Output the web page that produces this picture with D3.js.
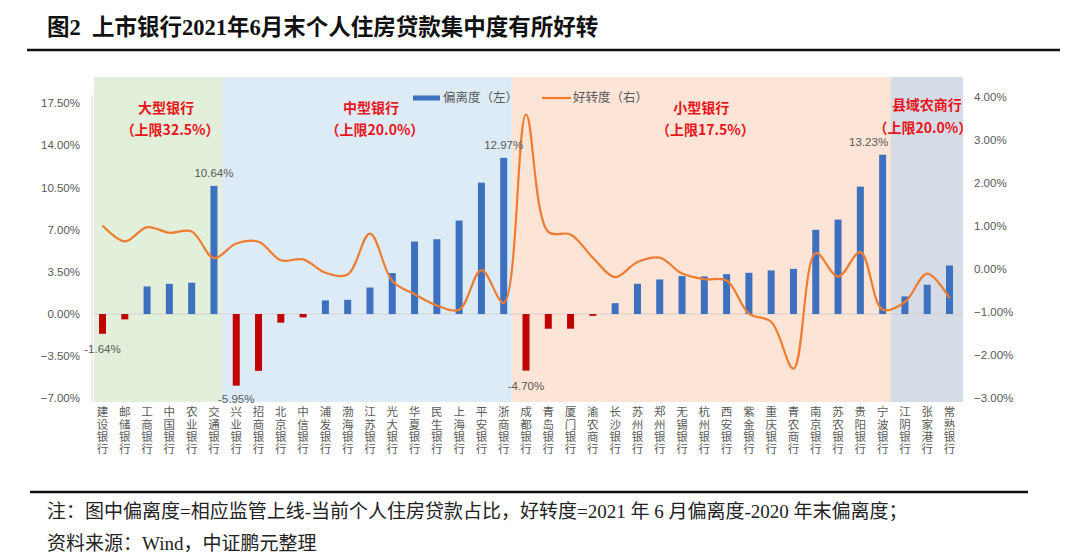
<!DOCTYPE html>
<html><head><meta charset="utf-8">
<script src="https://cdn.jsdelivr.net/npm/d3@7"></script>
<style>
html,body{margin:0;padding:0;background:#fff;}
svg{display:block;}
</style></head>
<body>
<svg id="c" width="1080" height="559"></svg>
<script>
const banks = ["建设银行","邮储银行","工商银行","中国银行","农业银行","交通银行",
"兴业银行","招商银行","北京银行","中信银行","浦发银行","渤海银行","江苏银行","光大银行","华夏银行","民生银行","上海银行","平安银行","浙商银行",
"成都银行","青岛银行","厦门银行","渝农商行","长沙银行","苏州银行","郑州银行","无锡银行","杭州银行","西安银行","紫金银行","重庆银行","青农商行","南京银行","苏农银行","贵阳银行","宁波银行",
"江阴银行","张家港行","常熟银行"];
// 偏离度（左） %
const deviation = [-1.64,-0.45,2.29,2.51,2.60,10.64,
-5.95,-4.72,-0.72,-0.28,1.13,1.18,2.20,3.40,6.02,6.21,7.76,10.91,12.97,
-4.70,-1.22,-1.22,-0.15,0.90,2.51,2.87,3.15,3.12,3.31,3.42,3.62,3.75,6.99,7.84,10.58,13.23,
1.46,2.43,4.03];
// 好转度（右） %
const improvement = [1.02,0.65,0.98,0.85,0.88,0.26,
0.60,0.64,0.21,0.23,-0.08,-0.12,0.83,-0.27,-0.58,-0.84,-0.94,-0.02,-0.78,
3.60,0.87,0.81,0.27,-0.18,0.17,0.27,-0.10,-0.23,-0.26,-1.03,-1.22,-2.31,0.38,-0.17,0.40,-0.94,
-0.76,-0.10,-0.67];
const groups = [
  {name:"大型银行", cap:"（上限32.5%）", from:0, to:5, color:"#E2EFDA"},
  {name:"中型银行", cap:"（上限20.0%）", from:6, to:18, color:"#DDEBF7"},
  {name:"小型银行", cap:"（上限17.5%）", from:19, to:35, color:"#FCE4D6"},
  {name:"县域农商行", cap:"（上限20.0%）", from:36, to:38, color:"#D6DCE5"}
];
const leftTicks = [-7,-3.5,0,3.5,7,10.5,14,17.5];
const rightTicks = [-3,-2,-1,0,1,2,3,4];
const labeled = {"建设银行":"-1.64%","交通银行":"10.64%","兴业银行":"-5.95%","浙商银行":"12.97%","成都银行":"-4.70%","宁波银行":"13.23%"};

const svg = d3.select("#c");
const cjk = "'Noto Sans CJK SC','Noto Sans',sans-serif";
const gray = "#595959";

// title
svg.append("text").attr("x",47).attr("y",35)
  .attr("font-family","'Liberation Serif','Noto Sans CJK SC',serif")
  .attr("font-weight","bold").attr("font-size",22.5).attr("fill","#111")
  .text("图2\u00A0\u00A0上市银行2021年6月末个人住房贷款集中度有所好转");
svg.append("line").attr("x1",27).attr("x2",1060).attr("y1",50).attr("y2",50)
  .attr("stroke","#111").attr("stroke-width",2.5);

const x = d3.scalePoint().domain(banks).range([102.5, 949.5]);
const step = x.step();
const yL = d3.scaleLinear().domain([-7,17.5]).range([398.3,103.3]);
const yR = d3.scaleLinear().domain([-3,4]).range([398.3,97.3]);
const plotTop = 77, plotBottom = 402;

// backgrounds
groups.forEach((g,i)=>{
  const x0 = i===0 ? x(banks[g.from]) - 8.5 : x(banks[g.from]) - step/2 - 3;
  const x1 = i===groups.length-1 ? x(banks[g.to]) + 13.5 : x(banks[g.to]) + step/2 - 3;
  g.x0 = x0; g.x1 = x1;
});
for (let i=1;i<groups.length;i++){ groups[i].x0 = groups[i-1].x1; }
groups.forEach(g=>{
  svg.append("rect").attr("x",g.x0).attr("y",plotTop).attr("width",g.x1-g.x0).attr("height",plotBottom-plotTop).attr("fill",g.color);
});

// left axis line
svg.append("line").attr("x1",92).attr("x2",92).attr("y1",yL(17.5)-8).attr("y2",plotBottom)
  .attr("stroke","#d9d9d9").attr("stroke-width",1);
// zero line
svg.append("line").attr("x1",groups[0].x0).attr("x2",groups[3].x1).attr("y1",yL(0)).attr("y2",yL(0))
  .attr("stroke","#d0d0d0").attr("stroke-width",1);

// left tick labels
svg.append("g").selectAll("text").data(leftTicks).join("text")
  .attr("x",80).attr("y",d=>yL(d)).attr("dy","0.35em").attr("text-anchor","end")
  .attr("font-family","'Liberation Sans',Arial,sans-serif").attr("font-size",11.5).attr("fill",gray)
  .text(d=>d3.format(".2f")(d)+"%");
// right tick labels
svg.append("g").selectAll("text").data(rightTicks).join("text")
  .attr("x",974).attr("y",d=>yR(d)).attr("dy","0.35em").attr("text-anchor","start")
  .attr("font-family","'Liberation Sans',Arial,sans-serif").attr("font-size",11.5).attr("fill",gray)
  .text(d=>d3.format(".2f")(d)+"%");

// bars
const bw = 7;
svg.append("g").selectAll("rect").data(banks).join("rect")
  .attr("x",d=>x(d)-bw/2).attr("width",bw)
  .attr("y",(d,i)=>yL(Math.max(0,deviation[i])))
  .attr("height",(d,i)=>Math.abs(yL(deviation[i])-yL(0)))
  .attr("fill",(d,i)=>deviation[i]>=0?"#3D71BF":"#C00000");

// line
const line = d3.line().x((d,i)=>x(banks[i])).y(d=>yR(d)).curve(d3.curveCatmullRom.alpha(0.5));
svg.append("path").datum(improvement).attr("d",line).attr("fill","none")
  .attr("stroke","#ED7D31").attr("stroke-width",2.2);

// data labels
banks.forEach((b,i)=>{
  if(!labeled[b]) return;
  const v = deviation[i];
  const dx = b==="宁波银行" ? -14 : 0;
  svg.append("text").attr("x",x(b)+dx)
    .attr("y", v>=0 ? yL(v)-13 : yL(v)+(b==="兴业银行"?13:15)).attr("dy","0.35em")
    .attr("text-anchor","middle").attr("font-family","'Liberation Sans',Arial,sans-serif")
    .attr("font-size",11.5).attr("fill",gray).text(labeled[b]);
});

// group labels
groups.forEach((g,i)=>{
  const cx = (g.x0+g.x1)/2 + (i===0?8:(i===1?4:0));
  svg.append("text").attr("x",cx).attr("y",i===3?105:108).attr("dy","0.35em").attr("text-anchor","middle")
    .attr("font-family",cjk).attr("font-weight","bold").attr("font-size",14).attr("fill","#E8141B").text(g.name);
  svg.append("text").attr("x",cx+(i===3?-4:4)).attr("y",i===3?128:130).attr("dy","0.35em").attr("text-anchor","middle")
    .attr("font-family",cjk).attr("font-weight","bold").attr("font-size",14).attr("fill","#E8141B").text(g.cap);
});

// x labels (vertical stacked, one character per row)
const xl = svg.append("g");
banks.forEach(b=>{
  Array.from(b).forEach((ch,k)=>{
    xl.append("text").attr("x",x(b)).attr("y",412+k*12.4).attr("dy","0.36em")
      .attr("text-anchor","middle").attr("font-family",cjk)
      .attr("font-size",11.5).attr("fill",gray).text(ch);
  });
});

// legend
svg.append("rect").attr("x",413).attr("y",95.5).attr("width",27).attr("height",5).attr("fill","#3D71BF");
svg.append("text").attr("x",443).attr("y",98).attr("dy","0.35em").attr("font-family",cjk)
  .attr("font-size",12.5).attr("fill",gray).text("偏离度（左）");
svg.append("line").attr("x1",542).attr("x2",571).attr("y1",98).attr("y2",98).attr("stroke","#ED7D31").attr("stroke-width",2.2);
svg.append("text").attr("x",573).attr("y",98).attr("dy","0.35em").attr("font-family",cjk)
  .attr("font-size",12.5).attr("fill",gray).text("好转度（右）");

// footnote
svg.append("line").attr("x1",30).attr("x2",1028).attr("y1",492).attr("y2",492)
  .attr("stroke","#111").attr("stroke-width",2.5);
const fn = "'Liberation Serif','Noto Sans CJK SC',serif";
svg.append("text").attr("x",47).attr("y",511).attr("dy","0.35em").attr("font-family",fn)
  .attr("font-size",19).attr("fill","#222")
  .text("注：图中偏离度=相应监管上线-当前个人住房贷款占比，好转度=2021 年 6 月偏离度-2020 年末偏离度；");
svg.append("text").attr("x",47).attr("y",543).attr("dy","0.35em").attr("font-family",fn)
  .attr("font-size",19).attr("fill","#222").text("资料来源：Wind，中证鹏元整理");
</script>
</body></html>
